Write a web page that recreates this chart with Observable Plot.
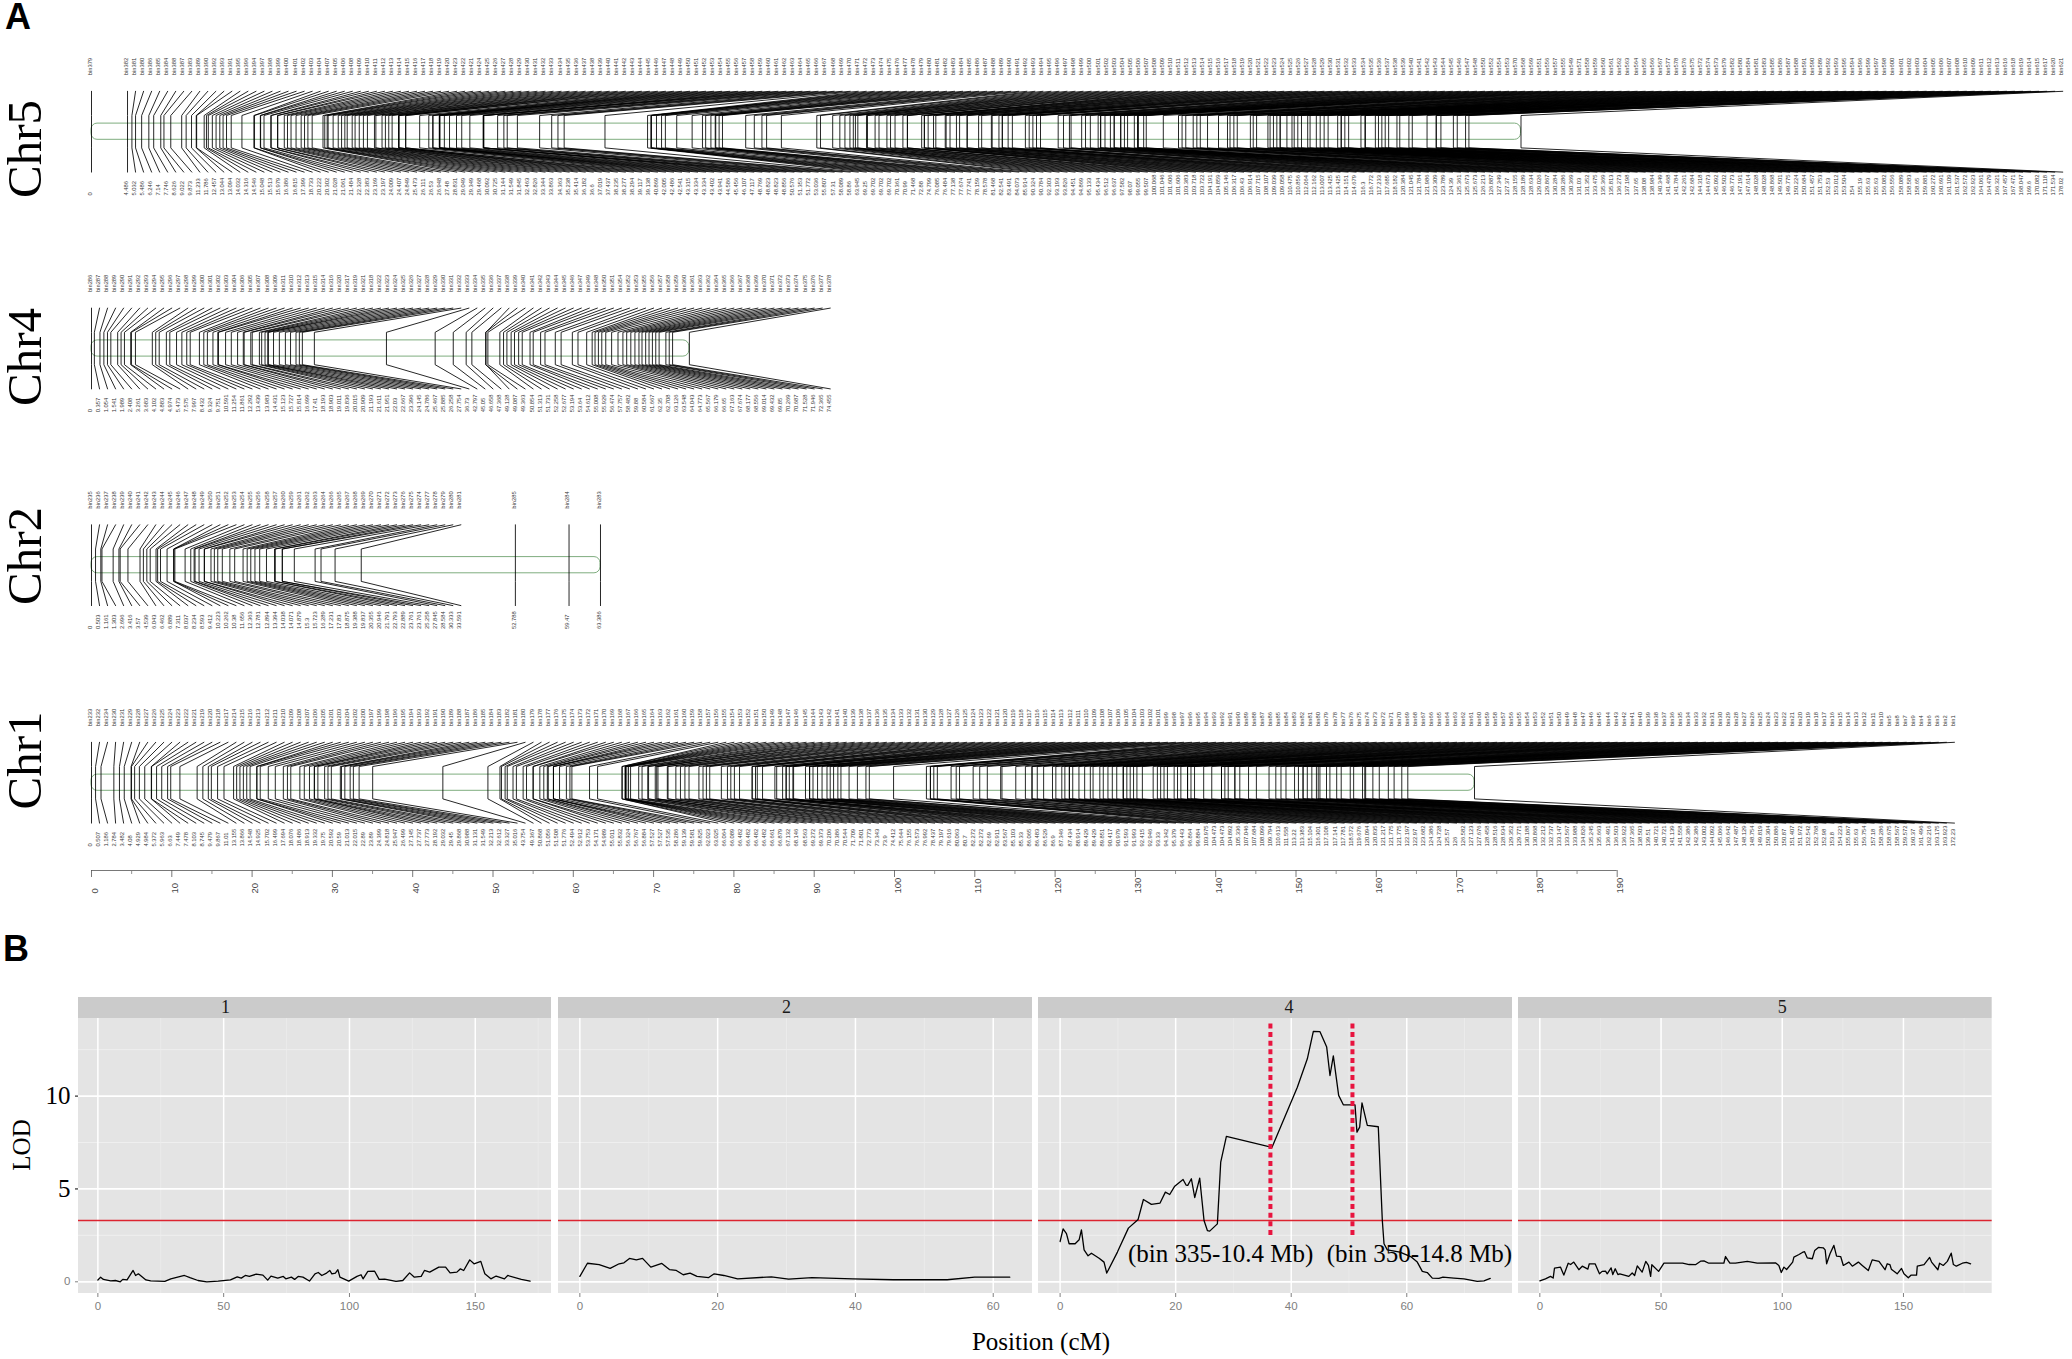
<!DOCTYPE html>
<html><head><meta charset="utf-8">
<script src="https://cdn.jsdelivr.net/npm/d3@7"></script>
<script src="https://cdn.jsdelivr.net/npm/@observablehq/plot@0.6"></script>
<style>
html,body{margin:0;background:#fff}
#page{position:relative;width:2072px;height:1359px;overflow:hidden}
.abs{position:absolute}
.serif{font-family:"Liberation Serif",serif;color:#000}
.lab{font-family:"Liberation Sans",sans-serif;font-weight:700;font-size:36px;line-height:36px;color:#000}
</style></head><body><div id="page"></div>
<script>
const chromosomes = ["Chr5","Chr4","Chr2","Chr1"];
const chr5Pos = [0,4.486,5.032,5.486,6.246,7.14,7.746,8.626,9.022,9.873,11.233,11.786,12.457,13.044,13.094,14.032,14.316,14.546,15.048,15.513,15.979,16.386,16.815,17.399,18.733,20.222,20.302,21.028,21.061,21.484,22.328,22.383,23.169,23.197,24.009,24.407,24.849,25.473,26.111,26.53,26.948,27.48,28.831,29.049,29.349,29.468,
30.092,30.725,31.144,31.549,31.845,32.463,32.826,33.344,33.863,34.363,35.238,35.414,36.182,36.6,37.019,37.437,38.235,38.277,38.294,39.117,39.138,40.869,42.005,42.486,42.541,43.315,43.334,43.334,43.402,43.941,44.586,45.456,46.107,47.117,48.769,48.823,48.823,48.856,50.576,51.353,51.772,53.036,55.807,57.31,58.089,58.86,63.945,69.25,69.702,69.702,69.702,70.361,70.99,71.468,72.88,74.799,76.085,76.484,77.138,77.674,77.741,78.159,78.578,81.468,82.541,83.491,84.073,85.914,90.324,90.784,92.303,93.193,93.826,94.451,94.869,95.133,95.434,96.512,96.637,97.582,98.07,99.055,99.507,100.068,101.046,101.606,101.606,103.383,103.718,103.722,104.191,104.859,105.146,106.317,106.43,106.914,107.715,108.107,109.039,109.058,110.475,110.856,112.064,112.162,113.007,113.425,113.425,114.151,114.679,116.3,116.772,117.233,117.685,118.182,120.384,121.045,121.784,121.986,123.309,123.789,124.39,125.361,125.673,125.673,126.213,126.887,127.349,127.37,128.155,
128.189,128.634,129.026,129.867,130.284,130.286,130.369,131.03,131.352,133.475,135.369,135.813,136.273,137.198,137.65,138.08,138.984,140.349,141.468,141.784,142.261,142.684,144.318,144.673,145.092,146.502,146.773,147.191,147.614,148.028,148.028,148.868,149.501,149.775,150.224,150.684,151.457,151.753,152.53,153.012,153.504,154.0,155.19,155.63,155.63,156.082,156.556,158.089,158.583,158.65,159.881,160.272,160.691,161.109,161.537,162.572,162.923,164.061,164.479,166.321,167.457,167.471,168.047,169.6,170.082,171.118,171.534,178.02];
const chr5Bin = [379,382,381,380,386,385,384,388,387,383,389,390,392,393,391,395,396,394,397,398,399,400,401,402,403,404,407,405,406,408,409,410,411,412,413,414,415,416,417,418,419,420,423,422,421,424,425,426,427,428,429,430,431,432,433,434,435,436,437,438,439,440,441,442,443,444,445,446,447,448,449,450,451,452,453,454,455,456,457,458,459,460,461,462,463,464,465,466,467,468,469,470,471,472,473,474,475,476,477,478,479,480,481,482,483,484,485,486,487,488,489,490,491,492,493,494,495,496,497,498,499,500,501,502,503,504,505,506,507,508,509,510,511,512,513,514,515,516,517,518,519,520,521,522,523,524,525,526,527,528,529,530,531,532,533,534,535,536,537,538,539,540,541,542,543,544,545,546,547,548,550,552,554,553,570,568,569,551,556,557,555,549,571,558,559,560,561,562,563,564,565,566,567,577,578,576,575,572,574,573,579,582,580,584,581,583,585,586,587,588,591,590,589,592,593,595,594,596,599,597,598,600,601,602,603,604,605,606,607,608,610,609,611,612,613,616,618,619,614,615,617,620,621];
const chr4Pos = [0,0.357,1.054,1.541,1.989,2.408,3.261,3.683,4.102,4.883,4.974,5.473,7.575,7.997,8.432,9.324,9.751,10.591,11.254,11.861,12.292,13.439,13.983,14.431,15.123,15.727,15.814,16.699,17.41,18.193,18.903,19.011,19.836,20.015,20.909,21.193,21.611,21.951,22.03,22.667,23.396,24.145,24.786,25.467,25.885,26.258,27.754,36.73,42.797,45.05,46.658,47.368,49.128,49.087,49.363,50.854,51.313,51.731,52.258,52.677,53.194,53.64,54.612,55.008,55.929,56.474,57.757,58.482,59.88,60.584,61.667,62.35,62.708,63.126,63.548,64.043,64.773,65.567,66.179,66.65,67.163,67.674,68.177,68.556,69.014,69.432,69.85,70.269,70.687,71.528,71.946,72.365,74.455];
const chr4Bin = [286,287,288,289,290,291,292,293,294,295,296,297,298,299,300,301,302,303,304,306,305,307,308,309,311,310,312,313,315,314,316,320,317,319,321,318,322,323,324,325,326,327,328,329,330,331,332,333,334,335,336,337,338,339,340,341,342,343,344,345,346,347,349,348,350,351,354,352,353,355,356,357,358,359,360,361,363,362,364,365,366,367,368,369,370,371,372,373,374,375,376,377,378];
const chr2Pos = [0,0.503,1.161,1.303,2.696,3.416,3.57,4.539,6.043,6.462,6.889,7.311,8.037,8.234,8.593,9.412,10.223,10.262,10.38,11.656,12.363,12.781,12.894,13.394,14.038,14.071,14.879,15.3,15.723,16.289,17.231,17.83,18.875,19.388,19.837,20.355,20.946,21.791,22.793,22.889,23.761,23.761,25.258,27.845,28.584,30.333,33.591,52.788,59.47,63.386];
const chr2Bin = [235,236,237,238,239,240,241,242,243,244,245,246,247,248,249,250,251,252,253,254,255,256,258,257,260,259,261,262,263,264,266,265,267,268,269,270,271,272,273,276,275,274,277,278,279,280,281,285,284,283];
const chr1Pos = [0,0.507,1.186,2.784,3.482,4.08,4.929,4.984,5.372,5.963,6.63,7.449,7.478,8.103,8.745,9.479,9.867,11.01,13.155,13.866,14.548,14.925,15.702,16.499,17.694,18.076,18.486,18.913,19.332,19.75,20.592,20.59,21.013,22.015,22.89,23.89,24.399,24.818,25.947,26.499,27.145,27.737,27.773,28.192,29.032,29.45,29.868,30.988,31.131,31.549,32.213,32.612,
33.327,35.016,43.754,49.367,50.868,51.056,51.508,51.776,52.494,52.912,53.753,54.171,54.989,55.011,55.832,56.324,56.767,56.884,57.527,57.527,57.535,58.286,59.139,59.581,59.825,62.023,63.025,66.064,66.089,66.482,66.482,66.482,66.482,66.661,66.879,67.132,68.146,68.563,69.272,69.373,70.206,70.386,70.544,71.709,71.801,72.773,73.343,73.9,74.412,75.644,76.155,76.573,76.992,78.437,79.197,79.616,80.063,80.7,82.272,82.272,82.69,82.911,83.567,85.103,85.33,86.065,86.483,86.529,86.9,87.346,87.434,88.914,89.429,89.429,89.851,90.417,90.979,91.593,91.993,92.415,92.946,93.33,94.342,95.379,96.443,96.864,99.884,103.975,104.473,104.473,104.892,105.336,107.046,107.684,108.099,109.794,110.613,111.558,113.22,
113.383,115.104,116.301,117.108,117.141,117.781,118.572,119.676,120.094,120.835,121.217,121.775,121.775,122.197,122.97,123.682,124.386,124.728,125.57,126,126.582,127.123,127.676,128.458,128.516,128.934,129.352,129.771,130.188,130.868,132.212,132.737,133.147,133.567,133.988,134.826,135.245,135.663,136.491,136.503,136.922,137.365,138.503,139.51,140.721,140.721,141.139,141.558,142.386,142.386,143.002,144.092,145.066,146.642,147.487,148.129,148.754,149.819,150.304,150.886,150.87,151.407,151.972,152.542,152.768,152.98,153.8,154.223,155.067,155.63,156.754,157.18,158.286,158.675,158.567,159.572,160.37,161.496,162.216,163.175,163.923,172.23];
const chr1Bin = [233,232,234,230,231,229,228,227,226,225,224,223,222,221,219,220,218,217,214,215,216,213,212,211,210,209,208,207,206,205,201,203,204,202,200,197,199,198,196,195,194,193,192,191,190,189,188,187,186,185,184,183,182,181,180,179,178,177,176,175,174,173,172,171,170,169,168,167,166,165,164,163,162,161,160,159,158,157,156,155,154,153,152,151,150,149,148,147,146,145,144,143,142,141,140,139,138,137,136,135,134,133,132,131,130,129,128,127,126,125,124,123,122,121,120,119,118,117,116,115,114,113,112,111,110,109,108,107,106,105,104,103,102,101,99,98,97,96,95,94,93,92,91,90,89,88,87,86,85,84,83,82,81,80,79,78,77,76,75,74,73,72,71,70,69,68,67,66,65,64,63,62,61,60,59,58,57,56,55,54,53,52,51,50,49,48,47,46,45,44,43,42,41,40,39,38,37,36,35,34,33,32,31,30,29,28,27,26,25,24,23,22,21,20,19,18,17,16,15,14,13,12,11,10,5,8,7,9,4,6,3,2,1];

const lod1 = [[0,.1],[1.1,.25],[2.2,.13],[5.1,.05],[7,.07],[8.9,0],[9.9,.13],[11.6,.1],[14,.61],[15,.34],[16.1,.43],[19.1,.1],[21,.05],[26.6,.02],[29,.16],[31.7,.25],[34.4,.34],[36.6,.22],[39.8,.07],[43.3,0],[47.8,.04],[52.7,.1],[55.4,.27],[57,.2],[58.6,.34],[60.2,.29],[62.9,.41],[65.6,.36],[67.5,.09],[68.8,.31],[71.5,.2],[73.7,.29],[74.7,.16],[76.9,.25],[78.2,.13],[79.6,.29],[81.5,.25],[84.1,.04],[86.3,.43],[87.6,.5],[89,.34],[90.9,.47],[92.2,.61],[93,.43],[94.4,.47],[95.4,.65],[96.2,.25],[99.7,.04],[103,.29],[104.6,.38],[105.4,.16],[107.3,.56],[110,.57],[111.8,.13],[114,.14],[118.5,.02],[121.2,.07],[123.9,.48],[125.8,.25],[128.5,.29],[129.8,.61],[131.9,.52],[135.5,.79],[138.2,.79],[140,.48],[142.7,.52],[144.1,.7],[145.4,.61],[147.8,1.18],[149.5,.97],[152.2,1.1],[153.8,.43],[156.2,.16],[158.3,.31],[161.6,.16],[162.9,.34],[168.3,.13],[171.8,.04]];
const lod2 = [[0,.29],[1.1,1],[2.8,.93],[4.4,.72],[5.7,.97],[6.4,1.02],[7.2,1.26],[8.2,1.18],[9.1,1.26],[10.3,.79],[11.9,.99],[13,.66],[14,.61],[15,.38],[16,.47],[17,.29],[18.7,.23],[19.5,.43],[20.9,.34],[22.9,.16],[27.8,.27],[30.3,.14],[33.7,.23],[39.6,.16],[45.5,.11],[53.3,.11],[57.3,.25],[62.4,.25]];
const lod4 = [[0,2.17],[.52,2.85],[1.1,2.59],[1.56,2.05],[2.6,2.05],[3.29,2.26],[3.69,2.8],[4.15,1.72],[4.84,1.4],[5.42,1.54],[6.75,1.27],[7.6,1.06],[8.07,.47],[9.92,1.6],[11.82,2.89],[13.5,3.36],[14.42,4.43],[15.8,4.17],[17.3,4.24],[18.22,4.83],[18.97,4.7],[19.84,5.15],[21.28,5.51],[21.8,5.21],[22.09,5.19],[22.72,5.55],[23.3,4.54],[24.16,5.58],[24.91,3.3],[25.49,2.76],[25.89,2.73],[27.22,3.12],[27.8,6.45],[28.78,7.83],[36.68,7.24],[41.06,10.48],[42.79,12.01],[43.83,13.48],[44.98,13.47],[46.14,12.64],[46.71,11.11],[47.29,12.17],[48.21,10.04],[49.02,9.53],[51.04,9.53],[51.38,8.06],[51.85,8.33],[52.25,9.64],[53.17,8.42],[55.07,8.35],[55.77,3.3],[56.06,2.05],[56.63,1.72],[58.82,1.6],[60.67,1.36],[61.82,1.06],[62.69,.56],[63.55,.5],[64.42,.2],[65.57,.18],[66.26,.25],[68.16,.2],[69.9,.16],[72.2,.02],[73.36,.05],[74.45,.18]];
const lod5 = [[0,.05],[2.3,.16],[4.4,.29],[5.5,.2],[6.05,.74],[8.5,.79],[9.9,.36],[11.7,1],[12.7,.93],[14,1.06],[16.1,.65],[17.5,.84],[19.8,.68],[20.4,.97],[22.8,.97],[24.6,.43],[25.7,.56],[27.1,.57],[27.8,.43],[29.4,.75],[30.1,.39],[31.1,.7],[32.2,.39],[33,.43],[36.7,.29],[38.1,.47],[39.1,.34],[40.2,.86],[42.2,.52],[43.7,1.1],[44.8,.88],[45.7,.29],[46.2,.92],[49,.56],[51.2,1],[58.9,1],[61.6,.93],[64.2,.92],[66.3,1.11],[67.7,1.13],[69.7,1],[75.9,1],[76.6,1.36],[77.6,1.15],[78.4,1],[80.7,1],[85.6,1.1],[89.7,1],[97.2,1.02],[98.6,.88],[99.6,.5],[100.7,.79],[101.8,.66],[104.3,1.06],[104.8,1.33],[106.9,1.47],[108.3,1.58],[109.2,1.62],[110.3,1.29],[112.4,1.24],[113.4,1.69],[114.9,1.85],[116.9,1.83],[117.7,1.72],[118.3,.97],[119.7,1.51],[121.3,1.96],[122.4,1.38],[124.1,1.36],[125.2,.88],[127.5,1.06],[128.9,.84],[131.4,1.06],[133,.88],[135.5,.61],[137.1,1.18],[139.9,1.1],[142.4,.65],[143.3,.97],[144.4,.93],[145,.68],[147.4,.43],[149.2,.72],[150.2,.43],[152,.22],[153.2,.36],[155.4,.36],[155.7,.84],[158.5,.92],[160.8,1.31],[161.6,1.06],[164.2,.65],[164.9,1],[166.4,.88],[168.1,1.1],[169.7,1.54],[170.6,.93],[171.8,.84],[174.3,1],[176,1.04],[177.7,.97]];
const threshold = 3.3;
const intervals = [36.4, 50.6];
const intervalLabels = [{x:27.8,t:"(bin 335-10.4 Mb)"},{x:62.2,t:"(bin 350-14.8 Mb)"}];

const page = document.getElementById("page");
const place = (el,left,top)=>{const d=document.createElement("div");d.className="abs";d.style.left=left+"px";d.style.top=top+"px";d.appendChild(el);page.appendChild(d);return d;};
const html = (cls,text,css)=>{const d=document.createElement("div");d.className="abs "+cls;d.textContent=text;d.style.cssText+=css;page.appendChild(d);};

/* ---------- Panel A ---------- */
const rowGeom = {Chr5:131.2,Chr4:348,Chr2:564.7,Chr1:782.2};
const OUT=40.4, INN=16.2, BAR=8.1;
const maps = [["Chr5",chr5Pos,chr5Bin],["Chr4",chr4Pos,chr4Bin],["Chr2",chr2Pos,chr2Bin],["Chr1",chr1Pos,chr1Bin]];
const markers = [];
for (const [chr,pos,bins] of maps){
  let last=-Infinity;
  pos.forEach((p,i)=>{
    const outer=Math.max(p,last+1); last=outer;
    markers.push({chr,pos:p,outer,bin:bins[i],c:rowGeom[chr],id:chr+i});
  });
}
const fan = markers.flatMap(m=>[
  {id:m.id,x:m.outer,y:m.c-OUT},{id:m.id,x:m.pos,y:m.c-INN},
  {id:m.id,x:m.pos,y:m.c+INN},{id:m.id,x:m.outer,y:m.c+OUT}]);
const bars = maps.map(([chr,pos])=>({c:rowGeom[chr],end:d3.max(pos)}));
const majorA = d3.range(0,191,10), minorA = d3.range(5,191,10);
const axisY = 870;
const sans = "Liberation Sans, Arial, sans-serif", serif = "Liberation Serif, Times New Roman, serif";
const panelA = Plot.plot({
  width:2072,height:900,margin:0,
  x:{domain:[-91/8.03,(2072-91)/8.03],range:[0,2072],axis:null},
  y:{domain:[0,900],range:[0,900],axis:null},
  style:{background:"transparent"},
  marks:[
    Plot.rect(bars,{x1:0,x2:"end",y1:d=>d.c-BAR,y2:d=>d.c+BAR,fill:"none",stroke:"#7fad7f",strokeWidth:1,rx:6}),
    Plot.line(fan,{x:"x",y:"y",z:"id",stroke:"#000",strokeWidth:0.85}),
    Plot.text(markers,{x:"outer",y:d=>d.c-OUT-16,text:d=>"bin"+d.bin,rotate:-90,textAnchor:"start",fontSize:5.8,fontFamily:sans,fill:"#333",dx:-1.5}),
    Plot.text(markers,{x:"outer",y:d=>d.c+OUT+23.4,text:d=>String(d.pos),rotate:-90,textAnchor:"start",fontSize:5.8,fontFamily:sans,fill:"#333",dx:-1.5}),
    Plot.text(chromosomes,{x:-8.3,y:d=>({Chr5:148.5,Chr4:356.5,Chr2:555.5,Chr1:760})[d],text:d=>d,rotate:-90,fontSize:49,fontFamily:serif,fill:"#000"}),
    Plot.ruleY([axisY],{x1:0,x2:190,stroke:"#555",strokeWidth:0.8}),
    Plot.ruleX(majorA,{y1:axisY,y2:axisY+7,stroke:"#555",strokeWidth:0.8}),
    Plot.ruleX(minorA,{y1:axisY,y2:axisY+4,stroke:"#777",strokeWidth:0.8}),
    Plot.text(majorA,{x:d=>d,y:axisY+23,text:d=>String(d),rotate:-90,textAnchor:"start",fontSize:9.5,fontFamily:sans,fill:"#444",dx:3})
  ]
});
place(panelA,0,0);

/* ---------- Panel B ---------- */
const yDomain=[-0.63,15.31], yPanelTop=14.18;
const facets = [
  {name:"1",data:lod1,left:0,width:551,marginLeft:78,dom:[-7.7,180.3],major:[0,50,100,150],minor:[25,75,125,175],nameX:50.7},
  {name:"2",data:lod2,left:558,width:474,marginLeft:0,dom:[-3.1,65.7],major:[0,20,40,60],minor:[10,30,50],nameX:30},
  {name:"4",data:lod4,left:1037.7,width:474,marginLeft:0,dom:[-3.74,78.3],major:[0,20,40,60],minor:[10,30,50,70],nameX:39.6},
  {name:"5",data:lod5,left:1518,width:473.7,marginLeft:0,dom:[-8.8,186.6],major:[0,50,100,150],minor:[25,75,125,175],nameX:100}
];
for (const f of facets){
  const marks=[
    Plot.rect([0],{x1:f.dom[0],x2:f.dom[1],y1:yDomain[0],y2:yPanelTop,fill:"#e4e4e4"}),
    Plot.rect([0],{x1:f.dom[0],x2:f.dom[1],y1:yPanelTop,y2:yDomain[1],fill:"#cbcbcb"}),
    Plot.ruleY([2.5,7.5,12.5],{x1:f.dom[0],x2:f.dom[1],stroke:"#f0f0f0",strokeWidth:0.9}),
    Plot.ruleX(f.minor,{y1:yDomain[0],y2:yPanelTop,stroke:"#ececec",strokeWidth:0.8}),
    Plot.ruleY([0,5,10],{x1:f.dom[0],x2:f.dom[1],stroke:"#fff",strokeWidth:1.8}),
    Plot.ruleX(f.major,{y1:yDomain[0],y2:yPanelTop,stroke:"#fff",strokeWidth:1.5}),
    Plot.ruleY([threshold],{x1:f.dom[0],x2:f.dom[1],stroke:"#dc2430",strokeWidth:1.6}),
    Plot.line(f.data,{x:"0",y:"1",stroke:"#000",strokeWidth:1.3}),
    Plot.text([f.name],{x:f.nameX,y:14.78,text:d=>d,fontSize:18,fontFamily:serif,fill:"#1a1a1a"}),
    Plot.axisX({ticks:f.major,tickSize:4,tickPadding:4,fontSize:11.5,fontFamily:sans,color:"#808080",label:null,tickFormat:d=>String(d)})
  ];
  if (f.name==="4"){
    marks.push(
      Plot.ruleX(intervals,{y1:2.5,y2:13.9,stroke:"#e8143f",strokeWidth:4,strokeDasharray:"5 3.6"}),
      Plot.text(intervalLabels,{x:"x",y:1.52,text:"t",fontSize:25,fontFamily:serif,fill:"#000"})
    );
  }
  if (f.name==="1"){
    marks.push(
      Plot.axisY({ticks:[5,10],tickSize:3,tickPadding:5,fontSize:25,fontFamily:serif,color:"#000",label:null,tickFormat:d=>String(d)}),
      Plot.axisY({ticks:[0],tickSize:3,tickPadding:5,fontSize:11.5,fontFamily:sans,color:"#808080",label:null,tickFormat:d=>String(d)})
    );
  }
  const p=Plot.plot({
    width:f.width,height:333,marginLeft:f.marginLeft,marginRight:0,marginTop:0,marginBottom:37,
    x:{domain:f.dom,axis:null},
    y:{domain:yDomain,axis:null},
    style:{background:"transparent",overflow:"visible"},
    marks
  });
  place(p,f.left,997);
}

html("lab","A","left:5px;top:-1px;");
html("lab","B","left:3px;top:931px;");
html("serif","LOD","left:21px;top:1145px;font-size:25px;line-height:25px;transform:translate(-50%,-50%) rotate(-90deg);white-space:nowrap;");
html("serif","Position (cM)","left:1041px;top:1341px;font-size:25px;line-height:25px;transform:translate(-50%,-50%);white-space:nowrap;");
</script></body></html>
